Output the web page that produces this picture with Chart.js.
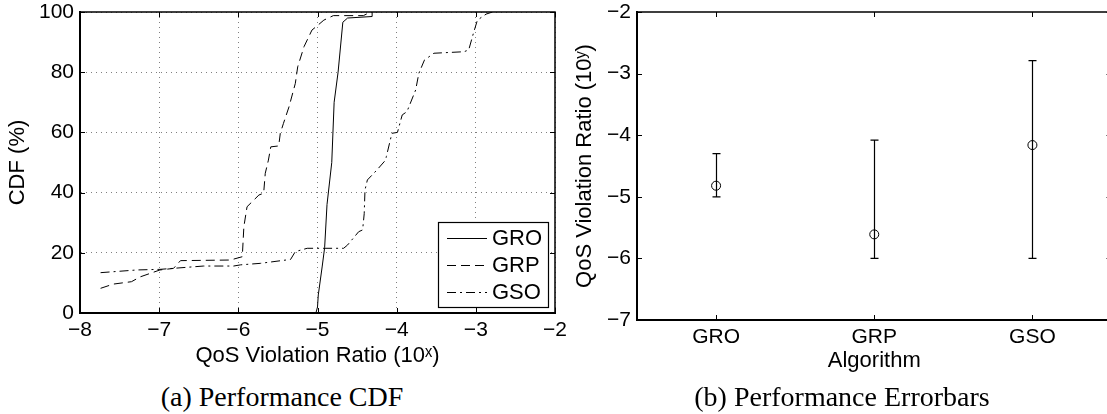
<!DOCTYPE html>
<html>
<head>
<meta charset="utf-8">
<script src="https://cdn.jsdelivr.net/npm/chart.js@4.4.1/dist/chart.umd.min.js"></script>
<style>
  html, body { margin: 0; padding: 0; background: #fff; overflow: hidden; width: 1107px; height: 414px; }
  .panel { position: absolute; top: 0; }
  #leftPanel { left: 0; width: 575px; height: 375px; }
  #rightPanel { left: 560px; width: 560px; height: 380px; }
  .caption { position: absolute; top: 382px; line-height: 30px; font-family: "Liberation Serif", serif; font-size: 28px; color: #000; transform: translateX(-50%); white-space: nowrap; }
</style>
</head>
<body>
<div class="panel" id="leftPanel"><canvas id="cdfChart"></canvas></div>
<div class="panel" id="rightPanel"><canvas id="errorChart"></canvas></div>
<div class="caption" style="left:282px">(a) Performance CDF</div>
<div class="caption" style="left:842px">(b) Performance Errorbars</div>
<script>
// CDF curves: [log10 ratio, CDF %]
const groCdf = [
    [-5.02, 0], [-5.0, 2], [-4.99, 6], [-4.94, 15.6], [-4.91, 21.7], [-4.88, 36],
    [-4.82, 50], [-4.79, 70], [-4.74, 80], [-4.68, 96.6], [-4.62, 98], [-4.31, 98.5], [-4.31, 100],
];
const grpCdf = [
    [-7.74, 8.2], [-7.58, 9.6], [-7.35, 10.4], [-7.24, 12], [-6.99, 14.3], [-6.82, 14.8],
    [-6.73, 17.4], [-6.10, 17.6], [-5.95, 18.7], [-5.93, 28.7], [-5.89, 35.3], [-5.74, 39.2],
    [-5.68, 39.8], [-5.66, 46.4], [-5.62, 50.8], [-5.59, 55.2], [-5.49, 55.5], [-5.47, 59.7],
    [-5.43, 63], [-5.36, 68.5], [-5.28, 76.3], [-5.25, 81.8], [-5.17, 88.5], [-5.07, 94],
    [-5.0, 95.5], [-4.92, 97.3], [-4.80, 98.8], [-4.42, 98.8], [-4.33, 100],
];
const gsoCdf = [
    [-7.74, 13.4], [-7.28, 14.3], [-6.99, 14.5], [-6.44, 15.6], [-6.06, 15.6], [-5.97, 16],
    [-5.72, 16.5], [-5.34, 17.8], [-5.28, 20.4], [-5.13, 21.5], [-4.67, 21.5], [-4.62, 22.6],
    [-4.48, 27], [-4.43, 27.6], [-4.41, 33], [-4.40, 40.9], [-4.37, 44.2], [-4.25, 47.5],
    [-4.14, 50.8], [-4.13, 52], [-4.06, 59.7], [-3.99, 60], [-3.93, 65.8], [-3.87, 66.9],
    [-3.76, 74.1], [-3.72, 79.6], [-3.65, 84], [-3.53, 86.3], [-3.15, 86.8], [-3.09, 87.4],
    [-3.03, 93], [-2.98, 97.3], [-2.87, 99.3], [-2.79, 100],
];

// Error bar panel
const algorithms = ['GRO', 'GRP', 'GSO'];
const means = [-4.82, -5.61, -4.16];
const lows = [-5.0, -6.0, -6.0];
const highs = [-4.3, -4.08, -2.79];

const cdfXTicks = [-8, -7, -6, -5, -4, -3, -2];
const cdfYTicks = [0, 20, 40, 60, 80, 100];
const errYTicks = [-7, -6, -5, -4, -3, -2];

Chart.defaults.font.family = '"Liberation Sans", Arial, sans-serif';
Chart.defaults.color = '#000';

const minus = (v) => String(v).replace('-', '\u2212');
const toPoints = (arr) => arr.map(([x, y]) => ({ x, y }));

// fixed axis sizes, and no extra room for overhanging tick labels
const fixX = (h) => (scale) => { scale.height = h; scale.paddingLeft = 0; scale.paddingRight = 0; };
const fixY = (w) => (scale) => { scale.width = w; scale.paddingTop = 0; scale.paddingBottom = 0; };

// MATLAB style box: top/right edges plus inward ticks on all sides
const boxPlugin = {
    id: 'matlabBox',
    afterDraw(chart) {
        const { ctx, chartArea: a, scales } = chart;
        ctx.save();
        ctx.strokeStyle = '#000';
        ctx.lineWidth = 1.5;
        ctx.beginPath();
        ctx.moveTo(a.left, a.top);
        ctx.lineTo(a.right, a.top);
        ctx.lineTo(a.right, a.bottom);
        ctx.stroke();

        const len = 5;
        ctx.lineWidth = 1;
        ctx.beginPath();
        scales.x.ticks.forEach((t) => {
            const px = Math.round(scales.x.getPixelForValue(t.value)) + 0.5;
            ctx.moveTo(px, a.bottom); ctx.lineTo(px, a.bottom - len);
            ctx.moveTo(px, a.top); ctx.lineTo(px, a.top + len);
        });
        scales.y.ticks.forEach((t) => {
            const py = Math.round(scales.y.getPixelForValue(t.value)) + 0.5;
            ctx.moveTo(a.left, py); ctx.lineTo(a.left + len, py);
            ctx.moveTo(a.right, py); ctx.lineTo(a.right - len, py);
        });
        ctx.stroke();
        ctx.restore();
    },
};

const legendPlugin = {
    id: 'boxLegend',
    afterDraw(chart) {
        const { ctx, chartArea: a } = chart;
        const w = 110, h = 85;
        const left = a.right - 7 - w, top = a.bottom - 6 - h;
        ctx.save();
        ctx.fillStyle = '#fff';
        ctx.fillRect(left, top, w, h);
        ctx.strokeStyle = '#000';
        ctx.lineWidth = 1.2;
        ctx.strokeRect(left + 0.5, top + 0.5, w, h);
        ctx.font = '22px "Liberation Sans", Arial, sans-serif';
        ctx.textBaseline = 'middle';
        ctx.fillStyle = '#000';
        chart.data.datasets.forEach((ds, i) => {
            const y = top + 16 + i * 27;
            ctx.beginPath();
            ctx.setLineDash(ds.borderDash || []);
            ctx.lineWidth = 1;
            ctx.moveTo(left + 9, y + 0.5);
            ctx.lineTo(left + 49, y + 0.5);
            ctx.stroke();
            ctx.setLineDash([]);
            ctx.fillText(ds.label, left + 54, y + 1);
        });
        ctx.restore();
    },
};

const errorBarPlugin = {
    id: 'errorBars',
    beforeDatasetsDraw(chart) {
        const { ctx, scales: { x, y } } = chart;
        ctx.save();
        ctx.strokeStyle = '#000';
        ctx.lineWidth = 1.2;
        algorithms.forEach((name, i) => {
            const px = Math.round(x.getPixelForValue(i + 1)) + 0.5;
            const top = y.getPixelForValue(highs[i]);
            const bot = y.getPixelForValue(lows[i]);
            ctx.beginPath();
            ctx.moveTo(px, top); ctx.lineTo(px, bot);
            ctx.moveTo(px - 4, top); ctx.lineTo(px + 4, top);
            ctx.moveTo(px - 4, bot); ctx.lineTo(px + 4, bot);
            ctx.stroke();
        });
        ctx.restore();
    },
};

const lineStyle = { borderColor: '#000', borderWidth: 1, pointRadius: 0, tension: 0, fill: false };

new Chart(document.getElementById('cdfChart'), {
    type: 'line',
    data: {
        datasets: [
            { label: 'GRO', data: toPoints(groCdf), ...lineStyle, borderDash: [] },
            { label: 'GRP', data: toPoints(grpCdf), ...lineStyle, borderDash: [9, 5] },
            { label: 'GSO', data: toPoints(gsoCdf), ...lineStyle, borderDash: [9, 4, 2, 4] },
        ],
    },
    options: {
        responsive: true,
        maintainAspectRatio: false,
        animation: false,
        layout: { autoPadding: false, padding: { top: 12, right: 20, left: 0, bottom: 0 } },
        plugins: { legend: { display: false }, tooltip: { enabled: false } },
        scales: {
            x: {
                type: 'linear',
                min: -8,
                max: -2,
                afterBuildTicks: (scale) => { scale.ticks = cdfXTicks.map((value) => ({ value })); },
                afterFit: fixX(62),
                ticks: { font: { size: 21 }, padding: 5, callback: (v) => minus(v) },
                grid: { color: 'rgba(0,0,0,0.5)', lineWidth: 1, drawTicks: false },
                border: { display: true, color: '#000', width: 2, dash: [1, 4] },
                title: { display: true, text: 'QoS Violation Ratio (10ˣ)', font: { size: 22 }, padding: { top: 0, bottom: 6 } },
            },
            y: {
                min: 0,
                max: 100,
                afterBuildTicks: (scale) => { scale.ticks = cdfYTicks.map((value) => ({ value })); },
                afterFit: fixY(80),
                ticks: { font: { size: 21 }, padding: 6 },
                grid: { color: 'rgba(0,0,0,0.5)', lineWidth: 1, drawTicks: false },
                border: { display: true, color: '#000', width: 2, dash: [1, 4] },
                title: { display: true, text: 'CDF (%)', font: { size: 22 }, padding: { top: 5, bottom: 0 } },
            },
        },
    },
    plugins: [boxPlugin, legendPlugin],
});

new Chart(document.getElementById('errorChart'), {
    type: 'scatter',
    data: {
        datasets: [
            {
                label: 'mean',
                data: means.map((m, i) => ({ x: i + 1, y: m })),
                pointStyle: 'circle',
                pointRadius: 4.5,
                pointBorderWidth: 1,
                borderColor: '#000',
                backgroundColor: 'rgba(0,0,0,0)',
            },
        ],
    },
    options: {
        responsive: true,
        maintainAspectRatio: false,
        animation: false,
        layout: { autoPadding: false, padding: { top: 12, right: 8.5, left: 0, bottom: 0 } },
        plugins: { legend: { display: false }, tooltip: { enabled: false } },
        scales: {
            x: {
                type: 'linear',
                min: 0.5,
                max: 3.5,
                afterBuildTicks: (scale) => { scale.ticks = algorithms.map((_, i) => ({ value: i + 1 })); },
                afterFit: fixX(60),
                ticks: { font: { size: 21 }, padding: 5, callback: (v) => algorithms[v - 1] },
                grid: { display: false, drawTicks: false },
                border: { display: true, color: '#000', width: 2 },
                title: { display: true, text: 'Algorithm', font: { size: 22 }, padding: { top: 0, bottom: 6 } },
            },
            y: {
                min: -7,
                max: -2,
                afterBuildTicks: (scale) => { scale.ticks = errYTicks.map((value) => ({ value })); },
                afterFit: fixY(77),
                ticks: { font: { size: 21 }, padding: 6, callback: (v) => minus(v) },
                grid: { display: false, drawTicks: false },
                border: { display: true, color: '#000', width: 2 },
                title: { display: true, text: 'QoS Violation Ratio (10ʸ)', font: { size: 22 }, padding: { top: 12, bottom: 0 } },
            },
        },
    },
    plugins: [boxPlugin, errorBarPlugin],
});
</script>
</body>
</html>
